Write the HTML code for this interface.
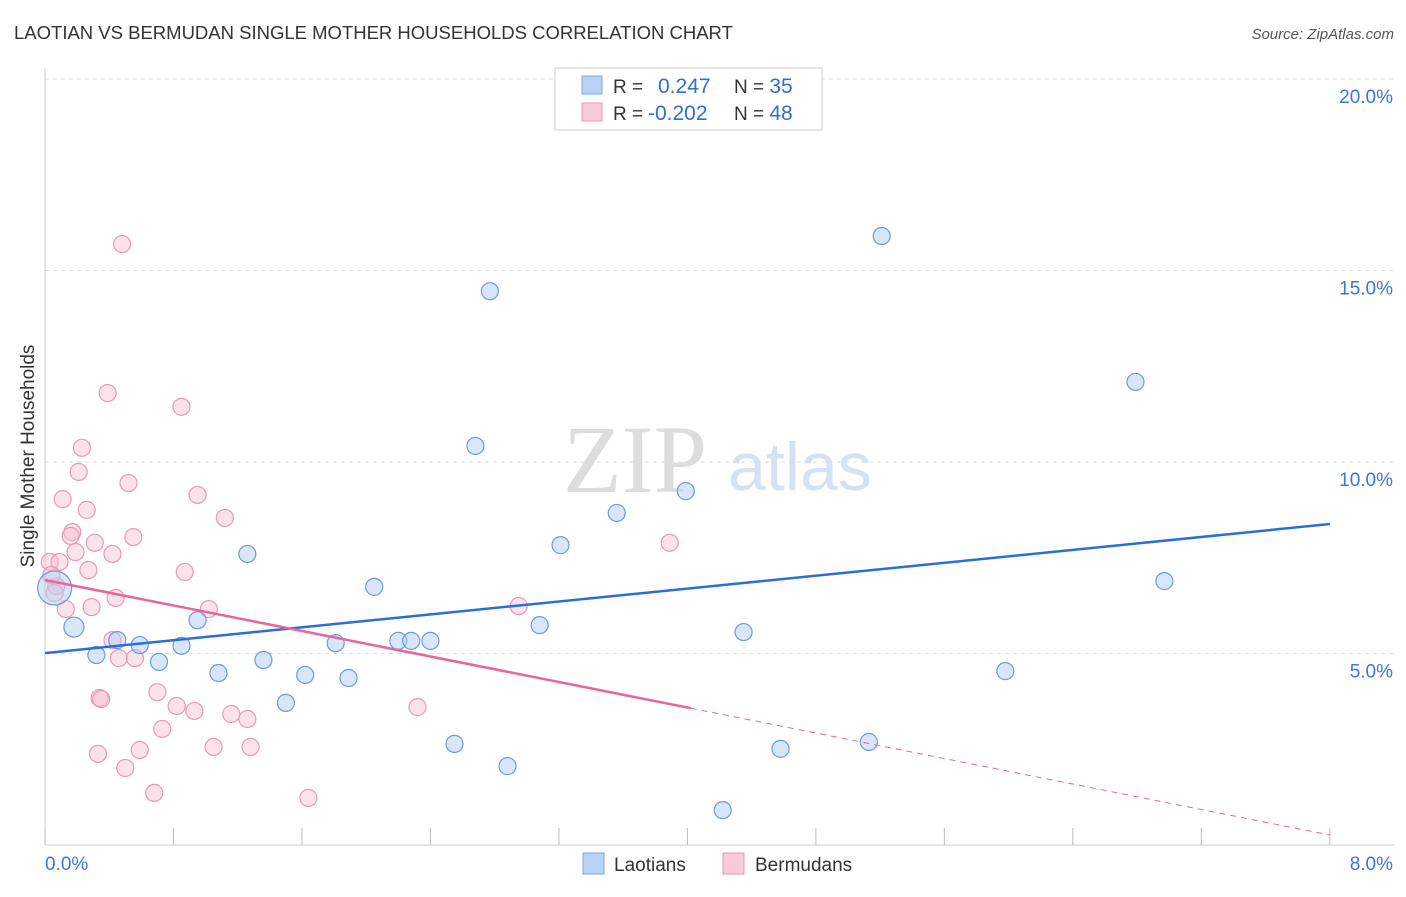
<!DOCTYPE html>
<html><head><meta charset="utf-8"><style>
body{margin:0;background:#fff;font-family:"Liberation Sans",sans-serif;}
</style></head><body>
<svg width="1406" height="892" xmlns="http://www.w3.org/2000/svg" font-family="Liberation Sans, sans-serif">
<text x="14" y="39" font-size="18.5" fill="#333">LAOTIAN VS BERMUDAN SINGLE MOTHER HOUSEHOLDS CORRELATION CHART</text>
<text x="1394" y="39" font-size="15" fill="#555" font-style="italic" text-anchor="end">Source: ZipAtlas.com</text>
<text x="635" y="492" font-size="96" fill="#ddd" font-family="Liberation Serif, serif" text-anchor="middle">ZIP</text>
<text x="800" y="490" font-size="68" fill="#d4e2f3" text-anchor="middle">atlas</text>
<text x="34" y="456" font-size="19" fill="#333" text-anchor="middle" transform="rotate(-90 34 456)">Single Mother Households</text>
<g id="axes"></g>
<g id="marks"></g>
<g>
<rect x="555" y="68" width="267" height="62" fill="#fff" stroke="#ccc"/>
<rect x="582" y="76" width="20" height="18" fill="#b9d3f5" stroke="#7aa6e0"/>
<rect x="582" y="103" width="20" height="18" fill="#f8c9d7" stroke="#e89ab2"/>
<text x="613" y="93" font-size="19" fill="#333">R = <tspan fill="#2f6fd0" x="658" font-size="21">0.247</tspan><tspan x="734" fill="#333">N = </tspan><tspan fill="#2f6fd0" font-size="21">35</tspan></text>
<text x="613" y="120" font-size="19" fill="#333">R = <tspan fill="#2f6fd0" x="648" font-size="21">-0.202</tspan><tspan x="734" fill="#333">N = </tspan><tspan fill="#2f6fd0" font-size="21">48</tspan></text>
</g>
<g>
<rect x="583" y="853" width="21" height="21" fill="#b9d3f5" stroke="#7aa6e0"/>
<text x="614" y="871" font-size="19" fill="#333">Laotians</text>
<rect x="723" y="853" width="21" height="21" fill="#f8c9d7" stroke="#e89ab2"/>
<text x="755" y="871" font-size="19" fill="#333">Bermudans</text>
</g>
</svg>
<script>
const blueX=[0.06,0.18,0.32,0.45,0.59,0.71,0.85,0.95,1.08,1.26,1.36,1.50,1.62,1.81,1.89,2.05,2.20,2.28,2.40,2.55,2.68,2.77,2.88,3.08,3.21,3.56,3.99,4.22,4.35,4.58,5.13,5.21,5.98,6.79,6.97];
const blueY=[6.71,5.69,4.96,5.35,5.22,4.78,5.20,5.87,4.49,7.60,4.83,3.71,4.44,5.27,4.36,6.74,5.33,5.33,5.33,2.64,10.42,14.46,2.06,5.74,7.83,8.67,9.24,0.91,5.56,2.51,2.69,15.90,4.54,12.09,6.89];
const pinkX=[0.48,0.39,0.85,0.23,0.21,0.11,0.52,0.26,0.95,1.12,0.17,0.16,0.31,0.55,0.19,0.42,0.03,0.09,0.27,0.87,0.07,0.06,0.13,0.29,0.44,1.02,2.95,3.89,0.42,0.46,0.56,0.70,0.34,0.35,0.82,0.93,1.16,1.26,0.73,0.59,0.33,1.05,1.28,0.50,0.68,1.64,2.32,0.04];
const pinkY=[15.69,11.80,11.44,10.37,9.74,9.03,9.45,8.75,9.14,8.54,8.17,8.07,7.89,8.04,7.65,7.60,7.39,7.39,7.18,7.13,6.76,6.58,6.16,6.21,6.45,6.16,6.24,7.89,5.35,4.88,4.88,3.99,3.84,3.81,3.63,3.50,3.42,3.29,3.03,2.48,2.38,2.56,2.56,2.01,1.36,1.23,3.60,7.05];
const blueTrend=[5.01,8.38];
const pinkTrend=[6.92,0.26];
const pinkSolidEnd=4.02;
const yTicks=[5,10,15,20];
const yTickLabels=["5.0%","10.0%","15.0%","20.0%"];
const xTickLabels=["0.0%","8.0%"];
const NS="http://www.w3.org/2000/svg";
const sx=v=>45+v*160.6, sy=v=>845-v*38.3;
function mk(tag,attrs,parent){const e=document.createElementNS(NS,tag);for(const k in attrs)e.setAttribute(k,attrs[k]);parent.appendChild(e);return e;}
const ax=document.getElementById('axes'), mg=document.getElementById('marks');
yTicks.forEach((t,i)=>{
 const g=mk('line',{x1:45,x2:1394,y1:sy(t),y2:sy(t),stroke:'#ddd','stroke-dasharray':'4,4'},ax);
 
 
 const tx=mk('text',{x:1393,y:sy(t)+24,'font-size':19,fill:'#3a78d8','text-anchor':'end'},ax);
 tx.textContent=yTickLabels[i];
 
 
});
const yl=mk('line',{x1:45,x2:45,y1:68,y2:845,stroke:'#ccc'},ax);


const xl=mk('line',{x1:45,x2:1394,y1:845,y2:845,stroke:'#ccc'},ax);


for(let i=0;i<=10;i++){
 const t=mk('line',{x1:sx(i*0.8),x2:sx(i*0.8),y1:828,y2:845,stroke:'#bbb'},ax);
 
 
}
[[0,45,'start'],[8,1393,'end']].forEach((d,i)=>{
 const tx=mk('text',{x:d[1],y:870,'font-size':19,fill:'#3a78d8','text-anchor':d[2]},ax);
 tx.textContent=xTickLabels[i];
 
 
});
pinkX.forEach((x,i)=>{
 const c=mk('circle',{cx:sx(x),cy:sy(pinkY[i]),r:8.5,fill:'rgba(248,190,208,0.45)',stroke:'#e99ab3','stroke-width':1.2},mg);
 
 
});
blueX.forEach((x,i)=>{
 const r=i===0?17:(i===1?10:8.5);
 const c=mk('circle',{cx:sx(x),cy:sy(blueY[i]),r:r,fill:'rgba(180,206,242,0.5)',stroke:'#6b9be0','stroke-width':1.2},mg);
 
 
});
const bl=mk('line',{x1:sx(0),y1:sy(blueTrend[0]),x2:sx(8),y2:sy(blueTrend[1]),stroke:'#2a6fd6','stroke-width':2.5},mg);


const pAt=x=>pinkTrend[0]+(pinkTrend[1]-pinkTrend[0])*x/8;
const pl=mk('line',{x1:sx(0),y1:sy(pinkTrend[0]),x2:sx(pinkSolidEnd),y2:sy(pAt(pinkSolidEnd)),stroke:'#e8669a','stroke-width':2.5},mg);


const pd=mk('line',{x1:sx(pinkSolidEnd),y1:sy(pAt(pinkSolidEnd)),x2:sx(8),y2:sy(pinkTrend[1]),stroke:'#e8669a','stroke-width':1,'stroke-dasharray':'6,5'},mg);


</script>
</body></html>
